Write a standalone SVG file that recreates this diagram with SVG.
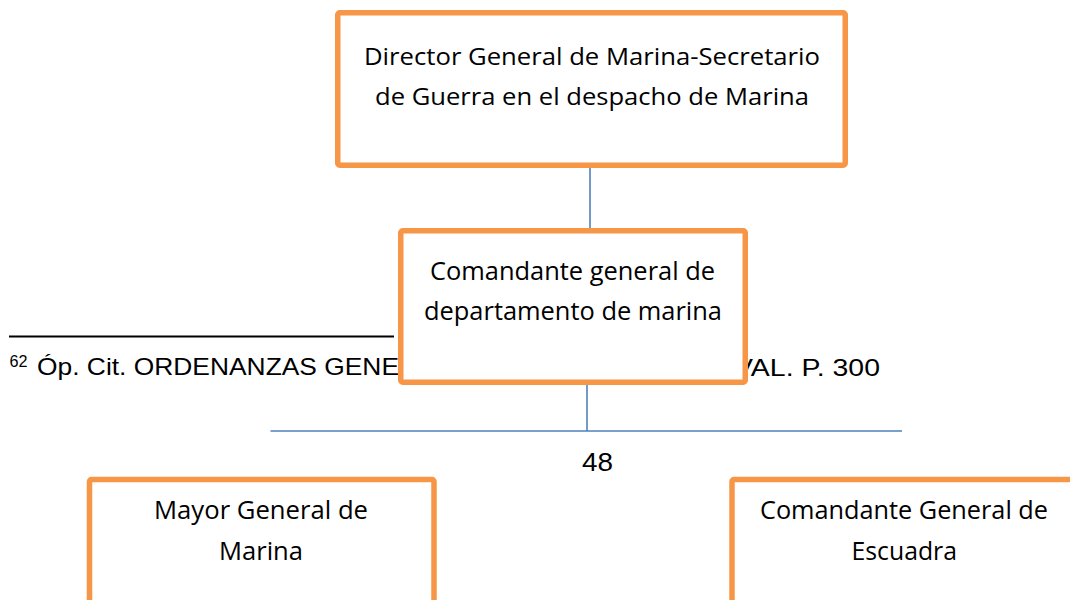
<svg xmlns="http://www.w3.org/2000/svg" width="1070" height="600" viewBox="0 0 1070 600">
<style>
.box{fill:#ffffff;stroke:#F79646;stroke-width:5.5}
.lbl{font-family:"Open Sans","DejaVu Sans",sans-serif;font-size:25.5px;fill:#000000}
.top{font-size:24.5px}
.conn{stroke:#4F81BD;stroke-width:1.6;fill:none}
.arial{font-family:"Liberation Sans",Arial,sans-serif;fill:#000000}
</style>
<rect width="1070" height="600" fill="#ffffff"/>
<g id="footnote">
<line x1="9" y1="336.5" x2="394" y2="336.5" stroke="#000000" stroke-width="1.8"/>
<text class="arial" x="9.5" y="367" font-size="16" textLength="18" lengthAdjust="spacingAndGlyphs">62</text>
<text class="arial" x="37" y="375" font-size="24" textLength="362" lengthAdjust="spacingAndGlyphs">Óp. Cit. ORDENANZAS GENE</text>
<text class="arial" x="734" y="376" font-size="24" textLength="146" lengthAdjust="spacingAndGlyphs">VAL. P. 300</text>
</g>
<g id="page-number">
<text class="arial" x="582" y="471" font-size="25" textLength="31" lengthAdjust="spacingAndGlyphs">48</text>
</g>
<g id="connectors">
<line class="conn" x1="590" y1="168" x2="590" y2="229"/>
<line class="conn" x1="587" y1="384" x2="587" y2="431"/>
<line class="conn" x1="270.5" y1="431" x2="902" y2="431"/>
</g>
<g id="node-director">
<rect class="box" x="337.75" y="12.75" width="507.5" height="152.5" rx="2"/>
<text class="lbl top" x="364" y="64.5" textLength="456" lengthAdjust="spacingAndGlyphs">Director General de Marina-Secretario</text>
<text class="lbl top" x="375" y="105" textLength="434" lengthAdjust="spacingAndGlyphs">de Guerra en el despacho de Marina</text>
</g>
<g id="node-comandante-departamento">
<rect class="box" x="400.75" y="230.75" width="344.5" height="151.5" rx="2"/>
<text class="lbl" x="430" y="280" textLength="285" lengthAdjust="spacingAndGlyphs">Comandante general de</text>
<text class="lbl" x="424" y="320" textLength="298" lengthAdjust="spacingAndGlyphs">departamento de marina</text>
</g>
<g id="node-mayor-general">
<rect class="box" x="89.5" y="479.5" width="344.5" height="160" rx="2"/>
<text class="lbl" x="154" y="519" textLength="214" lengthAdjust="spacingAndGlyphs">Mayor General de</text>
<text class="lbl" x="219" y="560" textLength="84" lengthAdjust="spacingAndGlyphs">Marina</text>
</g>
<g id="node-comandante-escuadra">
<rect class="box" x="732" y="479.5" width="344.5" height="160" rx="2"/>
<text class="lbl" x="760" y="519" textLength="288" lengthAdjust="spacingAndGlyphs">Comandante General de</text>
<text class="lbl" x="851.5" y="560" textLength="105.5" lengthAdjust="spacingAndGlyphs">Escuadra</text>
</g>
</svg>
